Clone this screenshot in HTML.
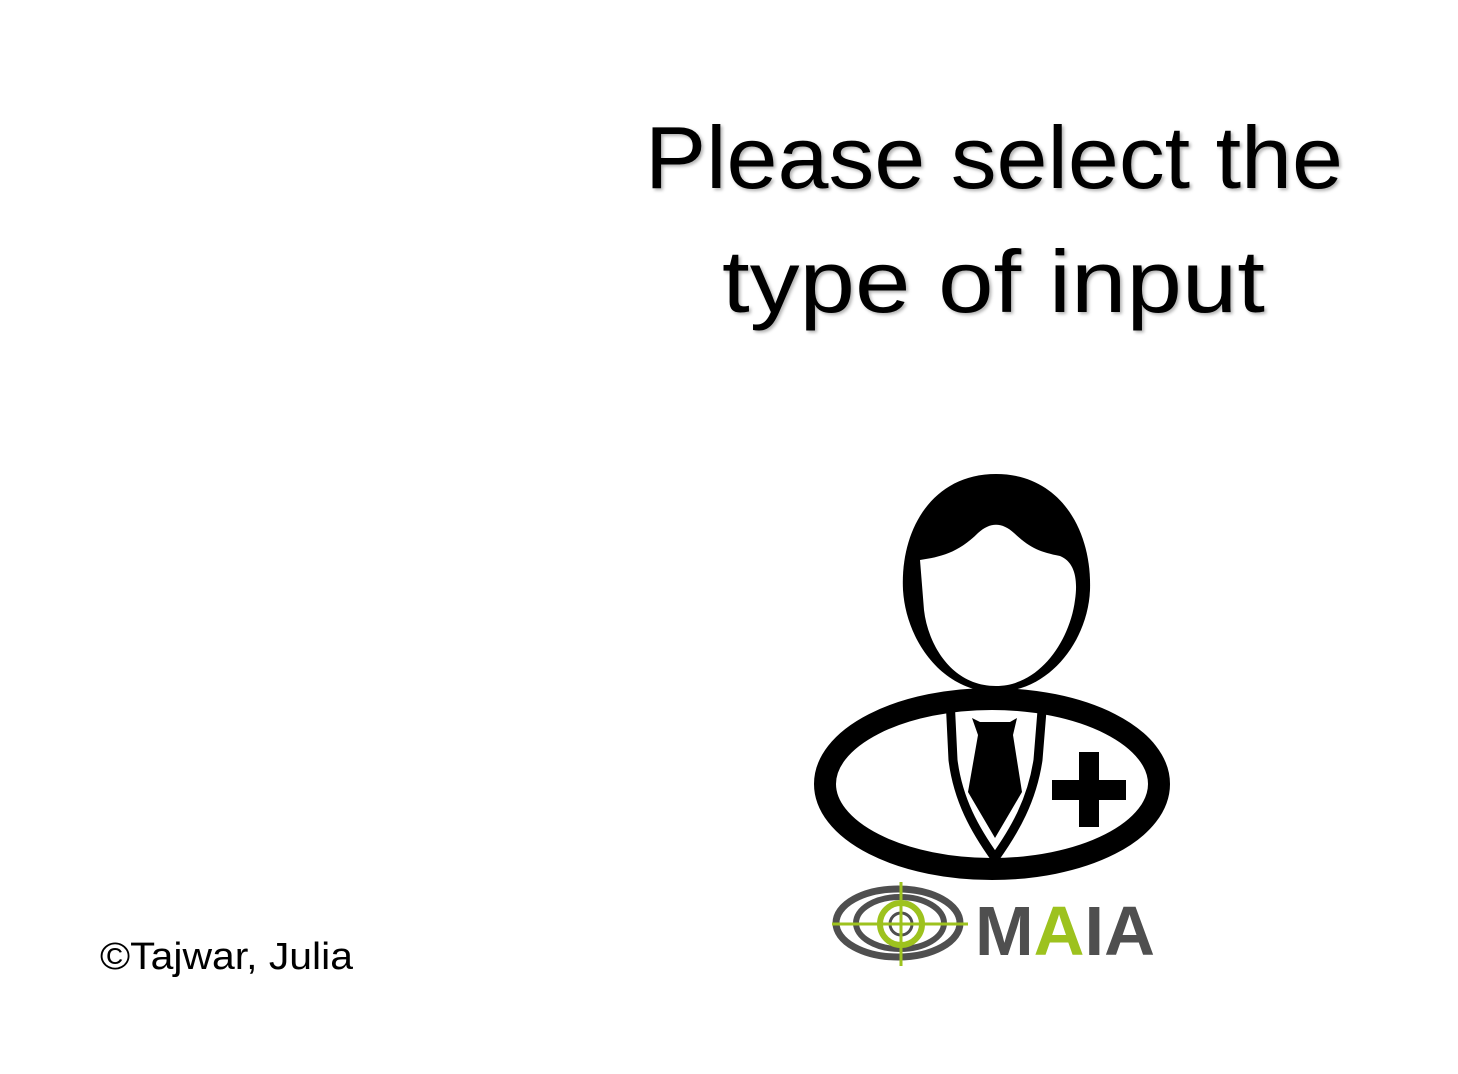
<!DOCTYPE html>
<html><head><meta charset="utf-8"><style>
html,body{margin:0;padding:0;background:#fff;}
svg{display:block;}
</style></head><body>
<svg width="1458" height="1074" viewBox="0 0 1458 1074" xmlns="http://www.w3.org/2000/svg">
<defs><filter id="sh" x="-5%" y="-5%" width="110%" height="120%"><feDropShadow dx="2" dy="2" stdDeviation="1.5" flood-color="#000" flood-opacity="0.3"/></filter></defs>
<g font-family="'Liberation Sans', sans-serif" font-size="88" fill="#000" filter="url(#sh)">
<text x="645" y="188" textLength="698" lengthAdjust="spacingAndGlyphs">Please select the</text>
<text x="722" y="312" textLength="543" lengthAdjust="spacingAndGlyphs">type of input</text>
</g>
<g>
<ellipse cx="992" cy="784" rx="167" ry="85" fill="none" stroke="#000" stroke-width="22"/>
<path d="M996,474 C1060,474 1092,530 1090,590 C1088,640 1050,692 996,692 C942,692 906,640 903,590 C900,530 932,474 996,474 Z" fill="#000"/>
<path d="M920,560 C940,557 958,553 978,533 C990,522 1002,522 1014,533 C1030,548 1040,552 1060,556 C1075,562 1078,580 1075,600 C1070,640 1040,686 996,686 C952,686 928,645 924,610 Z" fill="#fff"/>
<path d="M950,698 L953,760 C958,800 975,830 995,858" fill="none" stroke="#000" stroke-width="9"/>
<path d="M1043,698 L1038,760 C1032,800 1015,830 995,858" fill="none" stroke="#000" stroke-width="9"/>
<path d="M972,718 L980,722 L1010,722 L1017,718 L1013,735 L1022,792 L995,838 L968,792 L978,735 Z" fill="#000"/>
<rect x="1079" y="752" width="20" height="75" fill="#000"/>
<rect x="1052" y="780" width="74" height="20" fill="#000"/>
</g>
<g>
<ellipse cx="898" cy="923" rx="62" ry="34" fill="none" stroke="#4f4f4f" stroke-width="7"/>
<ellipse cx="900" cy="923" rx="44" ry="26" fill="none" stroke="#4f4f4f" stroke-width="6"/>
<circle cx="901" cy="924" r="21" fill="none" stroke="#9dc21e" stroke-width="6"/>
<circle cx="901" cy="924" r="11" fill="none" stroke="#4f4f4f" stroke-width="3"/>
<line x1="832" y1="924" x2="968" y2="924" stroke="#9dc21e" stroke-width="3"/>
<line x1="901" y1="882" x2="901" y2="966" stroke="#9dc21e" stroke-width="3"/>
<text x="975" y="955" font-family="'Liberation Sans', sans-serif" font-weight="bold" font-size="70" textLength="180" lengthAdjust="spacingAndGlyphs" fill="#4f4f4f">M<tspan fill="#9dc21e">A</tspan>IA</text>
</g>
<text x="100" y="969" font-family="'Liberation Sans', sans-serif" font-size="38" textLength="253" lengthAdjust="spacingAndGlyphs" fill="#000">©Tajwar, Julia</text>
</svg>
</body></html>
